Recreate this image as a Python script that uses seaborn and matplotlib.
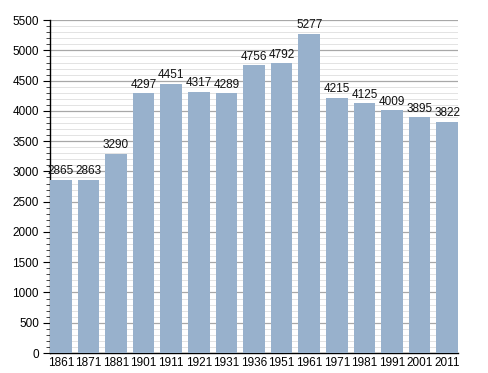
import numpy as np
import pandas as pd
import matplotlib
matplotlib.use('Agg')
import matplotlib.pyplot as plt
from matplotlib.ticker import MultipleLocator
import seaborn as sns

# =====================================
# Data
# =====================================
years = ['1861', '1871', '1881', '1901', '1911', '1921', '1931', '1936',
         '1951', '1961', '1971', '1981', '1991', '2001', '2011']
population = [2865, 2863, 3290, 4297, 4451, 4317, 4289, 4756,
              4792, 5277, 4215, 4125, 4009, 3895, 3822]

df = pd.DataFrame({'year': years, 'population': population})

# =====================================
# Plot
# =====================================
sns.set_style('white')
plt.rcParams['font.family'] = ['Liberation Sans', 'DejaVu Sans']

fig = plt.figure(figsize=(4.88, 3.73), dpi=100)
ax = fig.add_axes([0.1025, 0.0536, 0.836, 0.8924])

bar_color = '#98b1cc'
sns.barplot(data=df, x='year', y='population', color=bar_color,
            width=0.78, saturation=1, linewidth=0, ax=ax, zorder=3)

# value labels
for i, v in enumerate(population):
    ax.text(i, v + 40, str(v), ha='center', va='bottom', fontsize=8.5,
            color='#111111', zorder=4)

ax.set_ylim(0, 5500)
ax.set_xlim(-0.39, len(years) - 0.61)
ax.yaxis.set_major_locator(MultipleLocator(500))
ax.yaxis.set_minor_locator(MultipleLocator(100))
ax.grid(which='major', axis='y', color='#a8a8a8', linewidth=0.9, zorder=0)
ax.grid(which='minor', axis='y', color='#dedede', linewidth=0.6, zorder=0)
ax.set_axisbelow(True)

ax.set_xlabel('')
ax.set_ylabel('')
for s in ['top', 'right']:
    ax.spines[s].set_visible(False)
for s in ['left', 'bottom']:
    ax.spines[s].set_color('black')
    ax.spines[s].set_linewidth(1.0)

ax.tick_params(axis='y', which='major', direction='out', length=5, width=0.8,
               left=True, labelsize=8.5, pad=3, colors='black')
ax.tick_params(axis='y', which='minor', direction='out', length=3, width=0.6,
               left=True)
ax.tick_params(axis='x', length=0, labelsize=8.5, pad=3, colors='black')

plt.savefig('out.png', dpi=100)
